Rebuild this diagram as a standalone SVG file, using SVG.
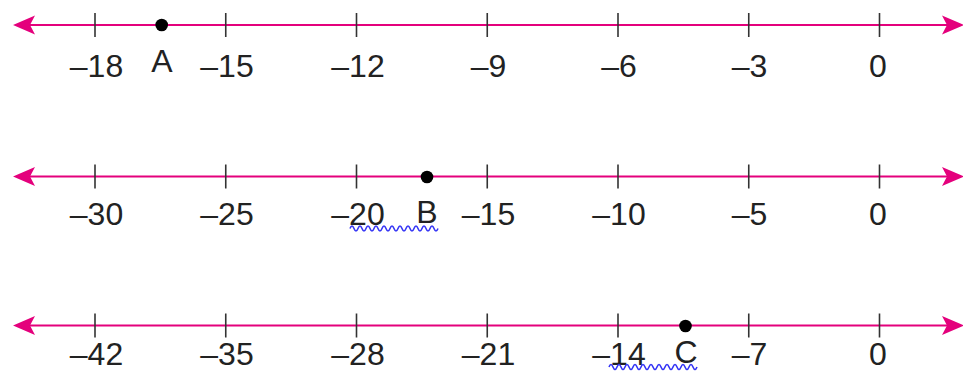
<svg xmlns="http://www.w3.org/2000/svg" width="963" height="373" viewBox="0 0 963 373">
<style>
.axis{stroke:#e4007c;stroke-width:2;fill:none}
.head{fill:#e4007c}
.tick{stroke:#333;stroke-width:1.6}
.num{font-family:"Liberation Sans",Arial,sans-serif;font-size:32px;fill:#222;text-anchor:middle}
.dot{fill:#000}
.sq{stroke:#3535f5;stroke-width:1.6;fill:none}
</style>
<defs>
<path id="lh" d="M13,0 L35,-9.5 L30,0 L35,9.5 Z" class="head"/>
<path id="rh" d="M964,0 L942,-9.5 L947,0 L942,9.5 Z" class="head"/>
<g id="ticks">
<line class="tick" x1="95" y1="-12" x2="95" y2="12"/>
<line class="tick" x1="225.75" y1="-12" x2="225.75" y2="12"/>
<line class="tick" x1="356.5" y1="-12" x2="356.5" y2="12"/>
<line class="tick" x1="487.25" y1="-12" x2="487.25" y2="12"/>
<line class="tick" x1="618" y1="-12" x2="618" y2="12"/>
<line class="tick" x1="748.75" y1="-12" x2="748.75" y2="12"/>
<line class="tick" x1="879.5" y1="-12" x2="879.5" y2="12"/>
</g>
<path id="wave" class="sq" d="M0,0 q2,-5 4,0 t4,0 t4,0 t4,0 t4,0 t4,0 t4,0 t4,0 t4,0 t4,0 t4,0 t4,0 t4,0 t4,0 t4,0 t4,0 t4,0 t4,0 t4,0 t4,0 t4,0 t4,0"/>
</defs>

<g id="line1" transform="translate(0,25)">
<line class="axis" x1="28" y1="0" x2="949" y2="0"/>
<use href="#lh"/><use href="#rh"/>
<use href="#ticks"/>
<text class="num" x="96.5" y="52">–18</text>
<text class="num" x="227" y="52">–15</text>
<text class="num" x="358" y="52">–12</text>
<text class="num" x="488.5" y="52">–9</text>
<text class="num" x="619" y="52">–6</text>
<text class="num" x="749.5" y="52">–3</text>
<text class="num" x="878" y="52">0</text>
</g>
<g id="pointA">
<circle class="dot" cx="161.7" cy="25" r="6.3"/>
<text class="num" x="162" y="72">A</text>
</g>

<g id="line2" transform="translate(0,176.5)">
<line class="axis" x1="28" y1="0" x2="949" y2="0"/>
<use href="#lh"/><use href="#rh"/>
<use href="#ticks"/>
<text class="num" x="96.5" y="48.5">–30</text>
<text class="num" x="227" y="48.5">–25</text>
<text class="num" x="358" y="48.5">–20</text>
<text class="num" x="488.5" y="48.5">–15</text>
<text class="num" x="619" y="48.5">–10</text>
<text class="num" x="749.5" y="48.5">–5</text>
<text class="num" x="878" y="48.5">0</text>
</g>
<g id="pointB">
<circle class="dot" cx="427" cy="177" r="6.3"/>
<text class="num" x="427" y="223">B</text>
</g>

<g id="line3" transform="translate(0,325.5)">
<line class="axis" x1="28" y1="0" x2="949" y2="0"/>
<use href="#lh"/><use href="#rh"/>
<use href="#ticks"/>
<text class="num" x="96.5" y="39.5">–42</text>
<text class="num" x="227" y="39.5">–35</text>
<text class="num" x="358" y="39.5">–28</text>
<text class="num" x="488.5" y="39.5">–21</text>
<text class="num" x="619" y="39.5">–14</text>
<text class="num" x="749.5" y="39.5">–7</text>
<text class="num" x="878" y="39.5">0</text>
</g>
<g id="pointC">
<circle class="dot" cx="685.5" cy="326" r="6.3"/>
<text class="num" x="686" y="363">C</text>
</g>

<g id="squiggles">
<use href="#wave" transform="translate(350,228.5)"/>
<use href="#wave" transform="translate(609,367)"/>
</g>
</svg>
